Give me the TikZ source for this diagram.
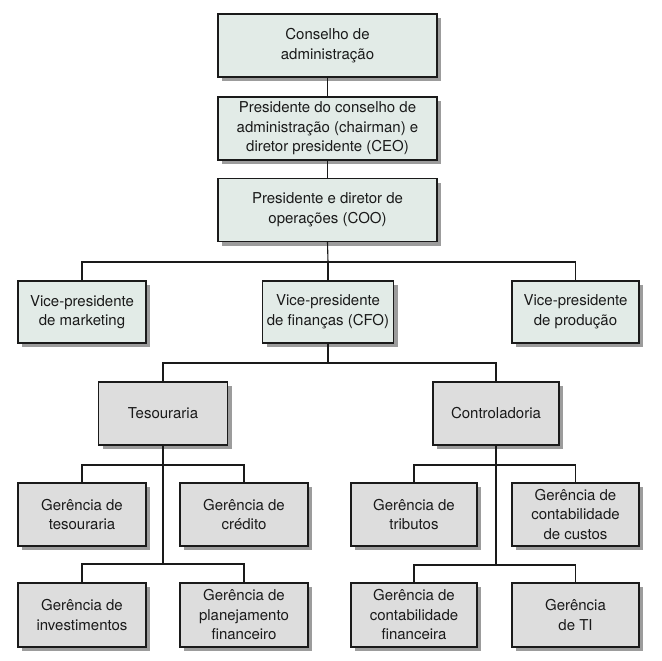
\documentclass[tikz,border=0pt]{standalone}
\usepackage{fontspec}
\setmainfont{TeX Gyre Heros}
\usetikzlibrary{shadows}
\definecolor{topfill}{HTML}{E2EBE7}
\definecolor{lowfill}{HTML}{DDDDDD}
\definecolor{shadowc}{HTML}{9C9C9C}
\definecolor{inkc}{HTML}{1A1A1A}
\tikzset{
  basebox/.style={draw=inkc, line width=1.2pt, rectangle, inner sep=0pt, align=center,
    text=inkc, font=\fontsize{15}{19.5}\selectfont,
    drop shadow={shadow xshift=4pt, shadow yshift=-4pt, fill=shadowc, opacity=1}},
  topbox/.style={basebox, fill=topfill},
  lowbox/.style={basebox, fill=lowfill},
  bigw/.style={minimum width=219pt, minimum height=63pt},
  smw/.style={minimum width=127pt, minimum height=63pt},
  link/.style={draw=inkc, line width=1.1pt}
}
\begin{document}
\begin{tikzpicture}[x=1pt,y=-1pt]
\useasboundingbox[fill=white] (0,0) rectangle (662,661);
% top chain
\node[topbox,bigw] (A) at (327.5,45.5) {Conselho de\\administração};
\node[topbox,bigw] (B) at (327.5,128.5) {Presidente do conselho de\\administração (chairman) e\\diretor presidente (CEO)};
\node[topbox,bigw] (C) at (327.5,210) {Presidente e diretor de\\operações (COO)};
% vice presidents
\node[topbox,smw,minimum width=128pt,minimum height=62pt] (VPM) at (82,312) {Vice-presidente\\de marketing};
\node[topbox,smw,minimum width=131pt,minimum height=62pt] (CFO) at (328,312) {Vice-presidente\\de finanças (CFO)};
\node[topbox,smw,minimum width=127pt,minimum height=62pt] (VPP) at (575.5,312) {Vice-presidente\\de produção};
% departments
\node[lowbox,smw,minimum width=129pt] (TES) at (163,413.5) {Tesouraria};
\node[lowbox,smw,minimum width=126pt] (CON) at (496,413.5) {Controladoria};
% row 2
\node[lowbox,smw,minimum width=128pt] (GT) at (82,514.5) {Gerência de\\tesouraria};
\node[lowbox,smw,minimum width=128pt] (GC) at (244,514.5) {Gerência de\\crédito};
\node[lowbox,smw,minimum width=126pt] (GTR) at (414,514.5) {Gerência de\\tributos};
\node[lowbox,smw,minimum width=127pt] (GCU) at (575.5,514.5) {Gerência de\\contabilidade\\de custos};
% row 3
\node[lowbox,smw,minimum width=128pt,minimum height=64pt] (GI) at (82,615) {Gerência de\\investimentos};
\node[lowbox,smw,minimum width=128pt,minimum height=64pt] (GP) at (244,615) {Gerência de\\planejamento\\financeiro};
\node[lowbox,smw,minimum width=126pt,minimum height=64pt] (GF) at (414,615) {Gerência de\\contabilidade\\financeira};
\node[lowbox,smw,minimum width=127pt,minimum height=64pt] (GTI) at (575.5,615) {Gerência\\de TI};
% junctions
\coordinate (j1) at (328,262);
\coordinate (j2) at (328,363);
\coordinate (t1) at (163,465);
\coordinate (t2) at (163,564);
\coordinate (c1) at (496,465);
\coordinate (c2) at (496,565);
% connectors
\begin{scope}[on background layer/.try]
\end{scope}
\draw[link] (A.south) -- (B.north);
\draw[link] (B.south) -- (C.north);
\draw[link] (C.south) -- (j1);
\draw[link] (VPM.north) |- (j1) -| (VPP.north);
\draw[link] (j1) -- (CFO.north);
\draw[link] (CFO.south) -- (j2);
\draw[link] (TES.north) |- (j2) -| (CON.north);
\draw[link] (TES.south) -- (t2);
\draw[link] (GT.north) |- (t1) -| (GC.north);
\draw[link] (GI.north) |- (t2) -| (GP.north);
\draw[link] (CON.south) -- (c2);
\draw[link] (GTR.north) |- (c1) -| (GCU.north);
\draw[link] (GF.north) |- (c2) -| (GTI.north);
\end{tikzpicture}
\end{document}
